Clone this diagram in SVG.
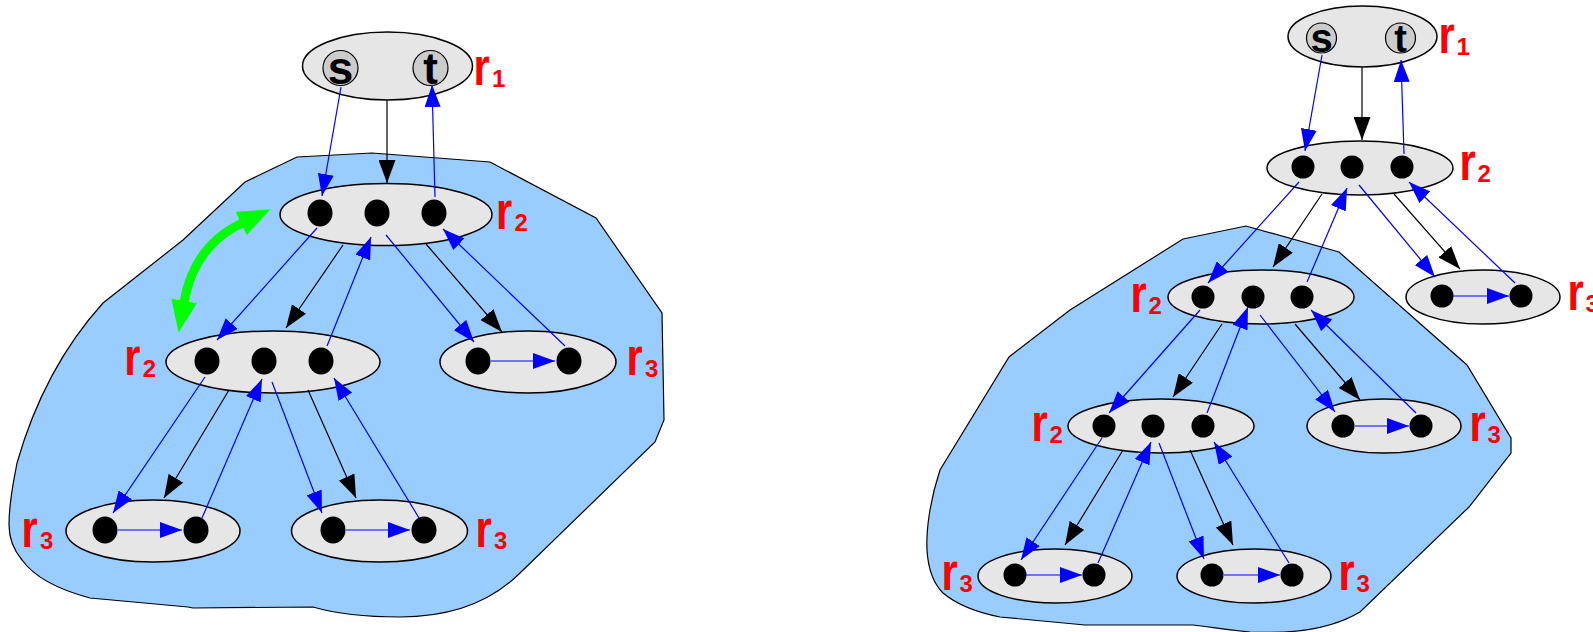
<svg xmlns="http://www.w3.org/2000/svg" width="1593" height="632" viewBox="0 0 1593 632">
<style>
.blob{fill:#99ccff;stroke:#000;stroke-width:1.2}
.node{fill:#e6e6e6;stroke:#000;stroke-width:1.5}
.dot{fill:#000}
.st{fill:#cccccc;stroke:#000;stroke-width:1.2}
.stt{font-family:"Liberation Sans",Arial,sans-serif;font-weight:bold;fill:#000;text-anchor:middle}
.r{font-family:"Liberation Sans",Arial,sans-serif;font-weight:bold;fill:#ff0000;font-size:52px}
.sub{font-family:"Liberation Sans",Arial,sans-serif;font-weight:bold;fill:#ff0000;font-size:24px}
.b{stroke:#0000ff;stroke-width:1.2;fill:none;marker-end:url(#ab)}
.k{stroke:#000;stroke-width:1.2;fill:none;marker-end:url(#ak)}
</style>
<defs>
<marker id="ab" markerWidth="22" markerHeight="16" refX="22" refY="8" orient="auto" markerUnits="userSpaceOnUse"><path d="M0,0 L22,8 L0,16 z" fill="#0000ff"/></marker>
<marker id="ak" markerWidth="23" markerHeight="17" refX="23" refY="8.5" orient="auto" markerUnits="userSpaceOnUse"><path d="M0,0 L23,8.5 L0,17 z" fill="#000"/></marker>
<marker id="ag" markerWidth="32" markerHeight="26" refX="1" refY="13" orient="auto-start-reverse" markerUnits="userSpaceOnUse"><path d="M0,0 L32,13 L0,26 z" fill="#00ff00"/></marker>
</defs>

<g id="blobs">
<path class="blob" d="M297,157 L372,153 L490,162 L596,218 L662,313 L664,420 L655,442 L520,573 C490,603 450,617 400,617 C360,617 330,612 313,607 L193,608 L188,607 L90,598 C60,590 35,578 22,560 C12,548 9,535 9,525 C9,500 14,480 17,463 C35,400 65,345 103,303 L183,240 L245,182 Z"/>
<path class="blob" d="M1183,239 L1246,226 L1339,252 L1467,365 L1511,438 L1511,453 L1469,507 L1360,612 C1330,630 1290,634 1250,632 C1230,630 1210,627 1193,625 L1085,625 L1000,617 C975,612 955,603 943,593 C932,582 928,567 927,550 C926,530 930,500 940,470 L1009,357 L1070,310 Z"/>
</g>

<!-- LEFT -->
<g id="L_r1">
<ellipse class="node" cx="387.5" cy="66" rx="85" ry="34"/>
<circle class="st" cx="340.5" cy="68" r="17.5"/>
<text class="stt" x="340.5" y="84" font-size="46">s</text>
<circle class="st" cx="430.5" cy="68" r="17.5"/>
<text class="stt" x="430.5" y="84" font-size="44">t</text>
<g transform="translate(473.5,85)"><text class="r" transform="scale(0.8,1)">r</text><text class="sub" x="18.6" y="1.5">1</text></g>
</g>
<g id="L_r2a">
<ellipse class="node" cx="386" cy="214.5" rx="106" ry="31"/>
<ellipse class="dot" cx="320" cy="213" rx="12.5" ry="13.5"/>
<ellipse class="dot" cx="377" cy="213" rx="12.5" ry="13.5"/>
<ellipse class="dot" cx="434" cy="213" rx="12.5" ry="13.5"/>
<g transform="translate(496,229)"><text class="r" transform="scale(0.8,1)">r</text><text class="sub" x="18.6" y="1.5">2</text></g>
</g>
<g id="L_r2b">
<ellipse class="node" cx="273" cy="362" rx="107" ry="31"/>
<ellipse class="dot" cx="207" cy="361" rx="12.5" ry="13.5"/>
<ellipse class="dot" cx="264" cy="361" rx="12.5" ry="13.5"/>
<ellipse class="dot" cx="321" cy="361" rx="12.5" ry="13.5"/>
<g transform="translate(124.2,375)"><text class="r" transform="scale(0.8,1)">r</text><text class="sub" x="18.6" y="1.5">2</text></g>
</g>
<g id="L_r3a">
<ellipse class="node" cx="528" cy="362" rx="88" ry="31"/>
<ellipse class="dot" cx="478" cy="361" rx="12.5" ry="13.5"/>
<ellipse class="dot" cx="569" cy="361" rx="12.5" ry="13.5"/>
<g transform="translate(626.5,375)"><text class="r" transform="scale(0.8,1)">r</text><text class="sub" x="18.6" y="1.5">3</text></g>
</g>
<g id="L_r3b">
<ellipse class="node" cx="153" cy="531" rx="87" ry="31"/>
<ellipse class="dot" cx="105" cy="530" rx="12.5" ry="13.5"/>
<ellipse class="dot" cx="196" cy="530" rx="12.5" ry="13.5"/>
<g transform="translate(21.5,547)"><text class="r" transform="scale(0.8,1)">r</text><text class="sub" x="18.6" y="1.5">3</text></g>
</g>
<g id="L_r3c">
<ellipse class="node" cx="379.5" cy="531" rx="88" ry="31"/>
<ellipse class="dot" cx="333" cy="530" rx="12.5" ry="13.5"/>
<ellipse class="dot" cx="424" cy="530" rx="12.5" ry="13.5"/>
<g transform="translate(475.5,547)"><text class="r" transform="scale(0.8,1)">r</text><text class="sub" x="18.6" y="1.5">3</text></g>
</g>

<!-- RIGHT -->
<g id="R_r1">
<ellipse class="node" cx="1362.5" cy="36.5" rx="74.5" ry="30.5"/>
<circle class="st" cx="1321.5" cy="38" r="15"/>
<text class="stt" x="1321.5" y="52" font-size="40">s</text>
<circle class="st" cx="1400.5" cy="38" r="15"/>
<text class="stt" x="1400.5" y="52" font-size="38">t</text>
<g transform="translate(1438.5,53)"><text class="r" transform="scale(0.8,1)" font-size="50">r</text><text class="sub" x="18" y="1.5">1</text></g>
</g>
<g id="R_r2a">
<ellipse class="node" cx="1360" cy="168" rx="93" ry="27"/>
<circle class="dot" cx="1303" cy="167" r="11.5"/>
<circle class="dot" cx="1352" cy="167" r="11.5"/>
<circle class="dot" cx="1402" cy="167" r="11.5"/>
<g transform="translate(1459.5,180)"><text class="r" transform="scale(0.8,1)" font-size="50">r</text><text class="sub" x="18" y="1.5">2</text></g>
</g>
<g id="R_r3a">
<ellipse class="node" cx="1483" cy="297" rx="77" ry="27"/>
<circle class="dot" cx="1442" cy="296" r="11.5"/>
<circle class="dot" cx="1521" cy="296" r="11.5"/>
<g transform="translate(1567.5,310)"><text class="r" transform="scale(0.8,1)" font-size="50">r</text><text class="sub" x="18" y="1.5">3</text></g>
</g>
<g id="R_r2b">
<ellipse class="node" cx="1261" cy="297" rx="93" ry="27"/>
<circle class="dot" cx="1203" cy="297" r="11.5"/>
<circle class="dot" cx="1253" cy="297" r="11.5"/>
<circle class="dot" cx="1302" cy="297" r="11.5"/>
<g transform="translate(1130.5,312)"><text class="r" transform="scale(0.8,1)" font-size="50">r</text><text class="sub" x="18" y="1.5">2</text></g>
</g>
<g id="R_r3b">
<ellipse class="node" cx="1384" cy="426" rx="77" ry="27"/>
<circle class="dot" cx="1343" cy="426" r="11.5"/>
<circle class="dot" cx="1421" cy="426" r="11.5"/>
<g transform="translate(1469.5,441)"><text class="r" transform="scale(0.8,1)" font-size="50">r</text><text class="sub" x="18" y="1.5">3</text></g>
</g>
<g id="R_r2c">
<ellipse class="node" cx="1161" cy="426" rx="93" ry="27"/>
<circle class="dot" cx="1104" cy="426" r="11.5"/>
<circle class="dot" cx="1153" cy="426" r="11.5"/>
<circle class="dot" cx="1203" cy="426" r="11.5"/>
<g transform="translate(1031.5,441)"><text class="r" transform="scale(0.8,1)" font-size="50">r</text><text class="sub" x="18" y="1.5">2</text></g>
</g>
<g id="R_r3c">
<ellipse class="node" cx="1055" cy="576" rx="77" ry="27"/>
<circle class="dot" cx="1015" cy="575" r="11.5"/>
<circle class="dot" cx="1094" cy="575" r="11.5"/>
<g transform="translate(941.5,590)"><text class="r" transform="scale(0.8,1)" font-size="50">r</text><text class="sub" x="18" y="1.5">3</text></g>
</g>
<g id="R_r3d">
<ellipse class="node" cx="1254" cy="576" rx="77" ry="27"/>
<circle class="dot" cx="1212" cy="575" r="11.5"/>
<circle class="dot" cx="1292" cy="575" r="11.5"/>
<g transform="translate(1338.5,590)"><text class="r" transform="scale(0.8,1)" font-size="50">r</text><text class="sub" x="18" y="1.5">3</text></g>
</g>

<g id="connectors">
<path d="M184,302 Q194,246 242,223" stroke="#00ff00" stroke-width="9" fill="none" marker-start="url(#ag)" marker-end="url(#ag)"/>
<path class="b" d="M341,87 L322,196"/>
<path class="k" d="M387,100 L387,183"/>
<path class="b" d="M435,197 L432,85"/>
<path class="b" d="M317,228 L217,340"/>
<path class="k" d="M343,245 L286,328"/>
<path class="b" d="M327,346 L371,237"/>
<path class="b" d="M386,235 L474,342"/>
<path class="k" d="M426,244 L502,332"/>
<path class="b" d="M565,346 L443,229"/>
<path class="b" d="M491,361 L555,361"/>
<path class="b" d="M205,377 L113,513"/>
<path class="k" d="M229,390 L164,498"/>
<path class="b" d="M202,518 L262,379"/>
<path class="b" d="M272,382 L322,513"/>
<path class="k" d="M308,390 L356,498"/>
<path class="b" d="M419,518 L334,378"/>
<path class="b" d="M118,530 L182,530"/>
<path class="b" d="M346,530 L410,530"/>

<path class="b" d="M1322,55 L1305,151"/>
<path class="k" d="M1362,67 L1362,140"/>
<path class="b" d="M1404,154 L1401,60"/>
<path class="b" d="M1299,182 L1208,283"/>
<path class="k" d="M1322,194 L1273,267"/>
<path class="b" d="M1307,282 L1347,188"/>
<path class="b" d="M1359,185 L1435,277"/>
<path class="k" d="M1394,194 L1460,269"/>
<path class="b" d="M1515,283 L1409,182"/>
<path class="b" d="M1453,296 L1509,296"/>
<path class="b" d="M1260,315 L1335,412"/>
<path class="k" d="M1295,324 L1360,400"/>
<path class="b" d="M1416,413 L1311,310"/>
<path class="b" d="M1355,426 L1409,426"/>
<path class="b" d="M1200,310 L1109,413"/>
<path class="k" d="M1222,324 L1173,397"/>
<path class="b" d="M1207,413 L1248,307"/>
<path class="b" d="M1102,438 L1021,560"/>
<path class="k" d="M1123,450 L1065,545"/>
<path class="b" d="M1098,563 L1151,442"/>
<path class="b" d="M1159,443 L1204,559"/>
<path class="k" d="M1190,450 L1233,545"/>
<path class="b" d="M1289,563 L1214,442"/>
<path class="b" d="M1026,575 L1082,575"/>
<path class="b" d="M1224,575 L1280,575"/>
</g>
</svg>
